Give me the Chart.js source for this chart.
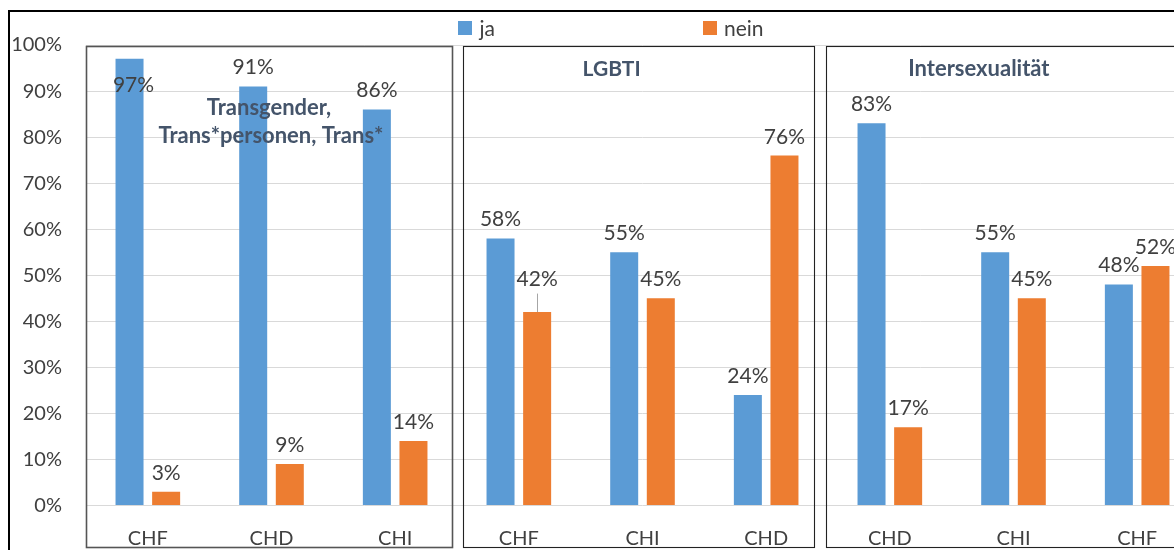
<!DOCTYPE html>
<html><head><meta charset="utf-8">
<script src="https://cdn.jsdelivr.net/npm/chart.js@4.4.1/dist/chart.umd.min.js"></script>
<style>
html,body{margin:0;padding:0;overflow:hidden;background:#fff;width:1174px;height:550px}
#wrap{position:absolute;left:0;top:0;width:1222px;height:550px}
</style></head>
<body><div id="wrap"><canvas id="c" width="1222" height="550"></canvas></div>
<script>
// ---- data ----
const categories = ['CHF','CHD','CHI','CHF','CHI','CHD','CHD','CHI','CHF'];
const seriesNames = ['ja','nein'];
const jaValues   = [97, 91, 86, 58, 55, 24, 83, 55, 48];
const neinValues = [ 3,  9, 14, 42, 45, 76, 17, 45, 52];
const yTickMin = 0, yTickMax = 100, yTickStep = 10;
const panelTitles = [['Transgender,','Trans*personen, Trans*'], ['LGBTI'], ['Intersexualität']];

// ---- layout / style (not data) ----
const COLORS = ['#5B9BD5', '#ED7D31'];
const TEXT = '#404040';
const TITLE = '#44546A';
const FONT = 'Lato, "Open Sans", sans-serif';
// panels in category units: [from, to], title x (category units), title baselines (axis value units)
const panelGeom = [
  {from:-0.5, to:2.46, tx:[0.98, 0.995], ty:[84.8, 78.7], size:22},
  {from:2.55, to:5.39, tx:[3.75], ty:[93.2], size:21},
  {from:5.485, to:9.5, tx:[6.72], ty:[93.2], size:22}
];
// special label moves: key "dataset-index"
const labelAdjust = {'0-0':{dx:4, dy:45}, '1-3':{dx:0, dy:-14.5, leader:true}};

function catPx(chart, v){
  const xs = chart.scales.x;
  const cw = (xs.right - xs.left) / categories.length;
  return xs.left + (v + 0.5) * cw;
}

const overlay = {
  id:'overlay',
  beforeDraw(chart){
    const ctx = chart.ctx;
    ctx.save();
    ctx.fillStyle = '#fff';
    ctx.fillRect(0,0,chart.width,chart.height);
    ctx.restore();
  },
  beforeDatasetsDraw(chart){
    const ctx = chart.ctx, ys = chart.scales.y;
    ctx.save();
    panelGeom.forEach((p, i) => {
      const l = catPx(chart, p.from), r = catPx(chart, p.to);
      const t = Math.round(ys.getPixelForValue(yTickMax)) + 1.5;
      const b = chart.height - 2.5;
      ctx.strokeStyle = i === 0 ? '#555' : '#222';
      ctx.lineWidth = i === 0 ? 1.6 : 1.1;
      ctx.strokeRect(Math.round(l) + 0.5, t, Math.round(r - l), b - t);
    });
    ctx.restore();
  },
  afterDatasetsDraw(chart){
    const ctx = chart.ctx, ys = chart.scales.y;
    ctx.save();
    // panel titles (drawn over bars)
    ctx.fillStyle = TITLE;
    ctx.textAlign = 'center';
    ctx.textBaseline = 'alphabetic';
    panelGeom.forEach((p, i) => {
      ctx.font = 'bold ' + p.size + 'px ' + FONT;
      panelTitles[i].forEach((line, k) => {
        ctx.fillText(line, catPx(chart, p.tx[k]), ys.getPixelForValue(p.ty[k]));
      });
    });
    // data labels
    ctx.font = '21px ' + FONT;
    ctx.fillStyle = TEXT;
    chart.data.datasets.forEach((ds, di) => {
      const meta = chart.getDatasetMeta(di);
      meta.data.forEach((el, i) => {
        const adj = labelAdjust[di + '-' + i] || {dx:0, dy:0};
        const x = el.x + adj.dx;
        const y = el.y - 12 + adj.dy;
        ctx.fillText(ds.data[i] + '%', x, y);
        if (adj.leader) {
          ctx.strokeStyle = '#A6A6A6';
          ctx.lineWidth = 1;
          ctx.beginPath();
          ctx.moveTo(Math.round(el.x) + 0.5, y + 8);
          ctx.lineTo(Math.round(el.x) + 0.5, el.y);
          ctx.stroke();
        }
      });
    });
    // legend
    ctx.font = '21px ' + FONT;
    ctx.textAlign = 'left';
    ctx.textBaseline = 'middle';
    const box = 14, gapText = 7, gapItems = 208;
    const widths = chart.data.datasets.map(d => box + gapText + ctx.measureText(d.label).width);
    const total = widths.reduce((a,b)=>a+b,0) + gapItems * (widths.length - 1);
    let x = chart.width / 2 - total / 2;
    const ly = 28;
    chart.data.datasets.forEach((d, i) => {
      ctx.fillStyle = d.backgroundColor;
      ctx.fillRect(Math.round(x), ly - 7, box, box);
      ctx.fillStyle = TEXT;
      ctx.fillText(d.label, x + box + gapText, ly + 1);
      x += widths[i] + gapItems;
    });
    // outer frame
    ctx.strokeStyle = '#000';
    ctx.lineWidth = 2;
    ctx.beginPath();
    ctx.moveTo(9, chart.height + 10);
    ctx.lineTo(9, 11);
    ctx.lineTo(chart.width + 10, 11);
    ctx.stroke();
    ctx.restore();
  }
};

new Chart(document.getElementById('c'), {
  type:'bar',
  data:{
    labels: categories,
    datasets:[
      {label: seriesNames[0], data: jaValues, backgroundColor: COLORS[0]},
      {label: seriesNames[1], data: neinValues, backgroundColor: COLORS[1]}
    ]
  },
  options:{
    responsive:false,
    animation:false,
    devicePixelRatio:1,
    barPercentage:0.765,
    categoryPercentage:0.592,
    layout:{padding:{top:45, left:0, right:23, bottom:0}},
    plugins:{legend:{display:false}, tooltip:{enabled:false}, title:{display:false}},
    scales:{
      x:{
        grid:{display:false, drawTicks:false},
        border:{display:false},
        ticks:{color:TEXT, font:{family:FONT, size:20}, padding:21},
        afterFit(s){ s.height = 44.5; }
      },
      y:{
        min:yTickMin, max:yTickMax,
        grid:{color:'#D9D9D9', lineWidth:1, drawTicks:false},
        border:{display:false},
        ticks:{stepSize:yTickStep, color:TEXT, font:{family:FONT, size:20}, padding:24,
               callback: v => v + '%'},
        afterFit(s){ s.width = 86; }
      }
    }
  },
  plugins:[overlay]
});
</script>
</body></html>
